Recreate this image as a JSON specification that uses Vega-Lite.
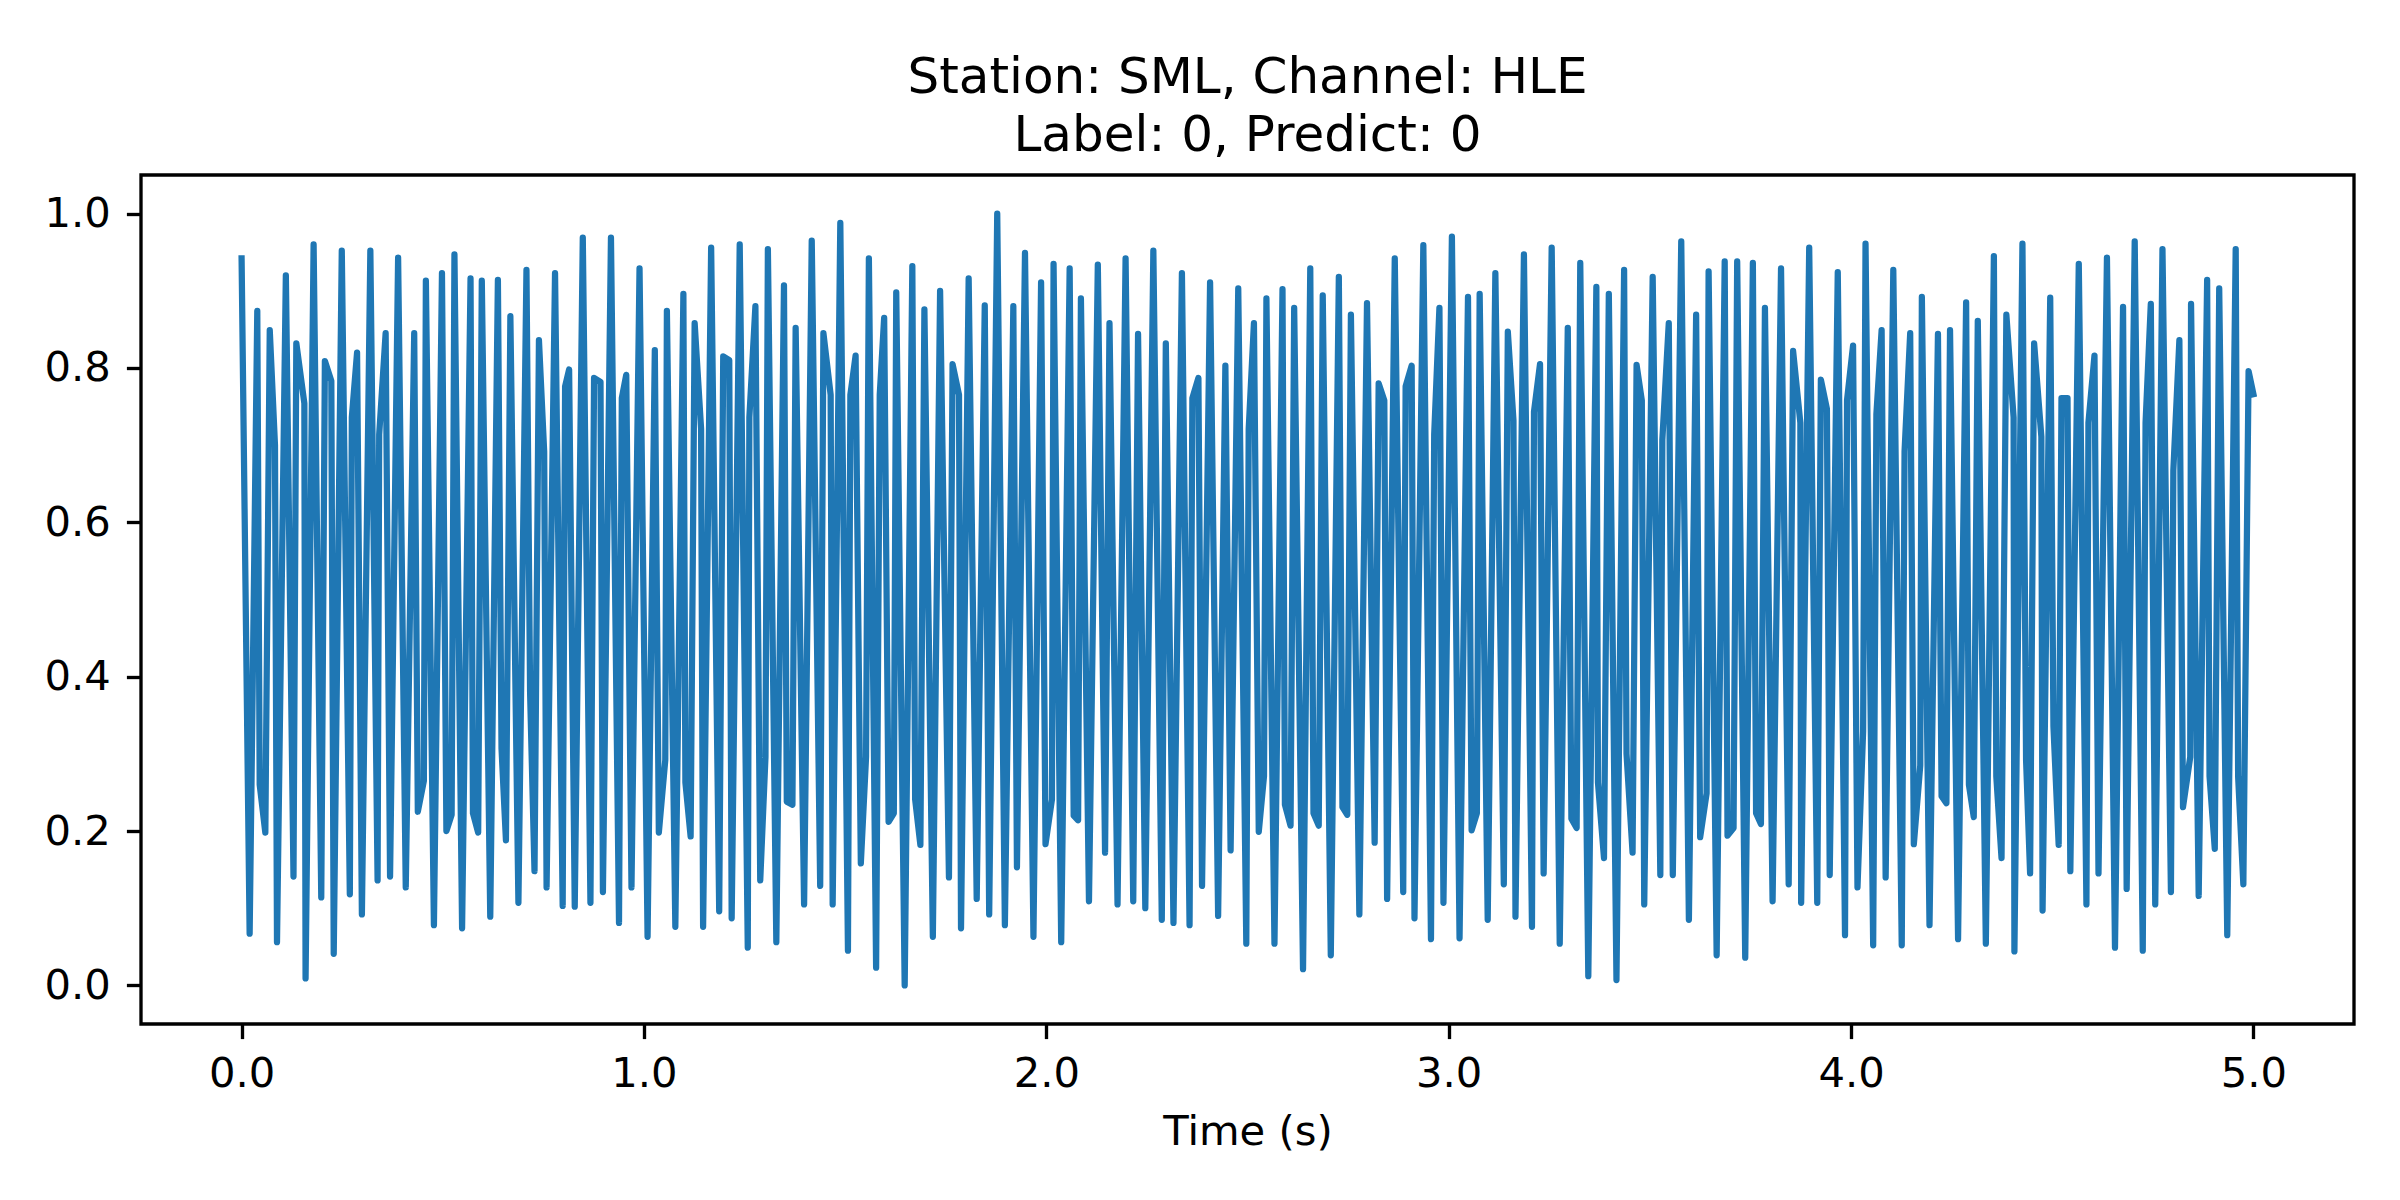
{
  "$schema": "https://vega.github.io/schema/vega-lite/v6.json",
  "description": "Station SML, channel HLE waveform over 5 seconds",
  "autosize": {"type": "none"},
  "width": 2213,
  "height": 849,
  "padding": {"left": 141, "top": 175, "right": 46, "bottom": 176},
  "background": "white",
  "title": {
    "text": ["Station: SML, Channel: HLE", "Label: 0, Predict: 0"],
    "font": "DejaVu Sans",
    "fontSize": 50,
    "fontWeight": "normal",
    "color": "#000000",
    "anchor": "middle",
    "frame": "group",
    "offset": 25,
    "dy": 51,
    "lineHeight": 58,
    "baseline": "alphabetic"
  },
  "data": {
    "values": [
      {"t":0,"v":0.942},{"t":0.02,"v":0.067},{"t":0.039,"v":0.874},{"t":0.045,"v":0.26},{"t":0.059,"v":0.198},
      {"t":0.07,"v":0.849},{"t":0.083,"v":0.7},{"t":0.088,"v":0.056},{"t":0.11,"v":0.92},{"t":0.129,"v":0.141},
      {"t":0.136,"v":0.832},{"t":0.156,"v":0.754},{"t":0.159,"v":0.009},{"t":0.179,"v":0.96},{"t":0.198,"v":0.114},
      {"t":0.207,"v":0.809},{"t":0.223,"v":0.783},{"t":0.229,"v":0.041},{"t":0.249,"v":0.952},{"t":0.269,"v":0.118},
      {"t":0.274,"v":0.736},{"t":0.287,"v":0.82},{"t":0.299,"v":0.092},{"t":0.32,"v":0.952},{"t":0.338,"v":0.136},
      {"t":0.342,"v":0.714},{"t":0.358,"v":0.845},{"t":0.369,"v":0.141},{"t":0.389,"v":0.943},{"t":0.408,"v":0.127},
      {"t":0.429,"v":0.845},{"t":0.438,"v":0.225},{"t":0.453,"v":0.265},{"t":0.458,"v":0.913},{"t":0.478,"v":0.078},
      {"t":0.498,"v":0.923},{"t":0.509,"v":0.2},{"t":0.522,"v":0.221},{"t":0.529,"v":0.947},{"t":0.548,"v":0.074},
      {"t":0.569,"v":0.916},{"t":0.575,"v":0.223},{"t":0.588,"v":0.198},{"t":0.597,"v":0.913},{"t":0.618,"v":0.089},
      {"t":0.637,"v":0.914},{"t":0.646,"v":0.307},{"t":0.657,"v":0.188},{"t":0.668,"v":0.867},{"t":0.688,"v":0.107},
      {"t":0.708,"v":0.927},{"t":0.717,"v":0.38},{"t":0.728,"v":0.148},{"t":0.739,"v":0.836},{"t":0.752,"v":0.692},
      {"t":0.758,"v":0.127},{"t":0.779,"v":0.923},{"t":0.798,"v":0.103},{"t":0.804,"v":0.776},{"t":0.814,"v":0.798},
      {"t":0.828,"v":0.102},{"t":0.848,"v":0.969},{"t":0.867,"v":0.107},{"t":0.876,"v":0.787},{"t":0.892,"v":0.782},
      {"t":0.898,"v":0.121},{"t":0.918,"v":0.969},{"t":0.938,"v":0.081},{"t":0.945,"v":0.761},{"t":0.956,"v":0.791},
      {"t":0.969,"v":0.127},{"t":0.989,"v":0.929},{"t":1.009,"v":0.063},{"t":1.027,"v":0.823},{"t":1.037,"v":0.198},
      {"t":1.053,"v":0.292},{"t":1.057,"v":0.874},{"t":1.078,"v":0.076},{"t":1.098,"v":0.896},{"t":1.103,"v":0.263},
      {"t":1.116,"v":0.193},{"t":1.126,"v":0.858},{"t":1.142,"v":0.721},{"t":1.147,"v":0.076},{"t":1.167,"v":0.956},
      {"t":1.187,"v":0.096},{"t":1.197,"v":0.815},{"t":1.212,"v":0.81},{"t":1.218,"v":0.087},{"t":1.238,"v":0.96},
      {"t":1.258,"v":0.049},{"t":1.262,"v":0.736},{"t":1.277,"v":0.88},{"t":1.289,"v":0.136},{"t":1.302,"v":0.296},
      {"t":1.308,"v":0.954},{"t":1.329,"v":0.056},{"t":1.348,"v":0.907},{"t":1.355,"v":0.238},{"t":1.369,"v":0.234},
      {"t":1.377,"v":0.852},{"t":1.398,"v":0.105},{"t":1.417,"v":0.965},{"t":1.438,"v":0.129},{"t":1.446,"v":0.845},
      {"t":1.464,"v":0.765},{"t":1.469,"v":0.105},{"t":1.488,"v":0.988},{"t":1.507,"v":0.045},{"t":1.513,"v":0.765},
      {"t":1.526,"v":0.816},{"t":1.539,"v":0.158},{"t":1.552,"v":0.296},{"t":1.559,"v":0.942},{"t":1.577,"v":0.023},
      {"t":1.586,"v":0.765},{"t":1.597,"v":0.865},{"t":1.608,"v":0.212},{"t":1.621,"v":0.223},{"t":1.627,"v":0.898},
      {"t":1.648,"v":0.0},{"t":1.667,"v":0.932},{"t":1.674,"v":0.241},{"t":1.687,"v":0.182},{"t":1.697,"v":0.876},
      {"t":1.718,"v":0.063},{"t":1.736,"v":0.9},{"t":1.758,"v":0.14},{"t":1.767,"v":0.805},{"t":1.783,"v":0.765},
      {"t":1.788,"v":0.074},{"t":1.807,"v":0.916},{"t":1.827,"v":0.112},{"t":1.847,"v":0.881},{"t":1.858,"v":0.092},
      {"t":1.878,"v":1.0},{"t":1.897,"v":0.078},{"t":1.918,"v":0.88},{"t":1.927,"v":0.153},{"t":1.947,"v":0.949},
      {"t":1.968,"v":0.063},{"t":1.987,"v":0.911},{"t":1.998,"v":0.183},{"t":2.014,"v":0.241},{"t":2.018,"v":0.935},
      {"t":2.037,"v":0.056},{"t":2.058,"v":0.929},{"t":2.068,"v":0.22},{"t":2.079,"v":0.214},{"t":2.086,"v":0.89},
      {"t":2.106,"v":0.109},{"t":2.128,"v":0.934},{"t":2.146,"v":0.172},{"t":2.157,"v":0.858},{"t":2.177,"v":0.105},
      {"t":2.197,"v":0.942},{"t":2.216,"v":0.109},{"t":2.228,"v":0.844},{"t":2.246,"v":0.1},{"t":2.266,"v":0.952},
      {"t":2.287,"v":0.085},{"t":2.297,"v":0.832},{"t":2.316,"v":0.081},{"t":2.337,"v":0.923},{"t":2.356,"v":0.078},
      {"t":2.363,"v":0.761},{"t":2.378,"v":0.787},{"t":2.387,"v":0.129},{"t":2.407,"v":0.911},{"t":2.427,"v":0.09},
      {"t":2.445,"v":0.803},{"t":2.458,"v":0.175},{"t":2.477,"v":0.903},{"t":2.497,"v":0.054},{"t":2.503,"v":0.721},
      {"t":2.516,"v":0.858},{"t":2.528,"v":0.199},{"t":2.541,"v":0.271},{"t":2.547,"v":0.89},{"t":2.567,"v":0.054},
      {"t":2.587,"v":0.902},{"t":2.593,"v":0.234},{"t":2.607,"v":0.207},{"t":2.616,"v":0.878},{"t":2.638,"v":0.021},
      {"t":2.656,"v":0.929},{"t":2.664,"v":0.223},{"t":2.677,"v":0.207},{"t":2.687,"v":0.894},{"t":2.707,"v":0.039},
      {"t":2.727,"v":0.918},{"t":2.736,"v":0.231},{"t":2.748,"v":0.221},{"t":2.757,"v":0.869},{"t":2.778,"v":0.092},
      {"t":2.797,"v":0.884},{"t":2.816,"v":0.185},{"t":2.826,"v":0.78},{"t":2.84,"v":0.758},{"t":2.847,"v":0.112},
      {"t":2.866,"v":0.942},{"t":2.887,"v":0.121},{"t":2.893,"v":0.776},{"t":2.908,"v":0.803},{"t":2.915,"v":0.087},
      {"t":2.937,"v":0.959},{"t":2.956,"v":0.06},{"t":2.964,"v":0.714},{"t":2.977,"v":0.878},{"t":2.987,"v":0.107},
      {"t":3.008,"v":0.97},{"t":3.027,"v":0.061},{"t":3.048,"v":0.892},{"t":3.057,"v":0.201},{"t":3.07,"v":0.223},
      {"t":3.077,"v":0.896},{"t":3.097,"v":0.085},{"t":3.116,"v":0.923},{"t":3.137,"v":0.131},{"t":3.147,"v":0.847},
      {"t":3.161,"v":0.732},{"t":3.166,"v":0.089},{"t":3.187,"v":0.947},{"t":3.207,"v":0.076},{"t":3.212,"v":0.743},
      {"t":3.227,"v":0.805},{"t":3.236,"v":0.145},{"t":3.256,"v":0.956},{"t":3.276,"v":0.054},{"t":3.296,"v":0.852},
      {"t":3.305,"v":0.216},{"t":3.318,"v":0.204},{"t":3.327,"v":0.936},{"t":3.347,"v":0.012},{"t":3.367,"v":0.905},
      {"t":3.371,"v":0.263},{"t":3.386,"v":0.165},{"t":3.398,"v":0.896},{"t":3.417,"v":0.007},{"t":3.436,"v":0.927},
      {"t":3.442,"v":0.3},{"t":3.457,"v":0.172},{"t":3.467,"v":0.804},{"t":3.48,"v":0.758},{"t":3.486,"v":0.105},
      {"t":3.507,"v":0.918},{"t":3.526,"v":0.143},{"t":3.531,"v":0.707},{"t":3.547,"v":0.858},{"t":3.557,"v":0.143},
      {"t":3.578,"v":0.964},{"t":3.597,"v":0.085},{"t":3.615,"v":0.869},{"t":3.625,"v":0.192},{"t":3.641,"v":0.249},
      {"t":3.646,"v":0.925},{"t":3.666,"v":0.039},{"t":3.686,"v":0.938},{"t":3.693,"v":0.194},{"t":3.708,"v":0.204},
      {"t":3.717,"v":0.938},{"t":3.737,"v":0.036},{"t":3.756,"v":0.936},{"t":3.764,"v":0.223},{"t":3.776,"v":0.209},
      {"t":3.786,"v":0.878},{"t":3.805,"v":0.109},{"t":3.826,"v":0.929},{"t":3.845,"v":0.131},{"t":3.856,"v":0.822},
      {"t":3.874,"v":0.729},{"t":3.876,"v":0.107},{"t":3.896,"v":0.956},{"t":3.916,"v":0.107},{"t":3.925,"v":0.785},
      {"t":3.94,"v":0.747},{"t":3.947,"v":0.143},{"t":3.967,"v":0.924},{"t":3.985,"v":0.065},{"t":3.99,"v":0.758},
      {"t":4.005,"v":0.829},{"t":4.016,"v":0.127},{"t":4.03,"v":0.329},{"t":4.036,"v":0.961},{"t":4.055,"v":0.052},
      {"t":4.063,"v":0.74},{"t":4.076,"v":0.849},{"t":4.086,"v":0.14},{"t":4.105,"v":0.927},{"t":4.126,"v":0.052},
      {"t":4.133,"v":0.692},{"t":4.147,"v":0.845},{"t":4.156,"v":0.183},{"t":4.172,"v":0.285},{"t":4.176,"v":0.892},
      {"t":4.195,"v":0.078},{"t":4.216,"v":0.844},{"t":4.225,"v":0.245},{"t":4.237,"v":0.236},{"t":4.246,"v":0.849},
      {"t":4.266,"v":0.06},{"t":4.286,"v":0.885},{"t":4.293,"v":0.26},{"t":4.305,"v":0.218},{"t":4.315,"v":0.861},
      {"t":4.335,"v":0.054},{"t":4.355,"v":0.945},{"t":4.361,"v":0.271},{"t":4.374,"v":0.165},{"t":4.386,"v":0.869},
      {"t":4.404,"v":0.736},{"t":4.406,"v":0.044},{"t":4.426,"v":0.961},{"t":4.435,"v":0.292},{"t":4.445,"v":0.145},
      {"t":4.455,"v":0.832},{"t":4.473,"v":0.711},{"t":4.476,"v":0.097},{"t":4.495,"v":0.891},{"t":4.503,"v":0.336},
      {"t":4.516,"v":0.182},{"t":4.523,"v":0.761},{"t":4.538,"v":0.761},{"t":4.545,"v":0.148},{"t":4.566,"v":0.935},
      {"t":4.585,"v":0.105},{"t":4.59,"v":0.729},{"t":4.605,"v":0.816},{"t":4.615,"v":0.145},{"t":4.636,"v":0.943},
      {"t":4.656,"v":0.049},{"t":4.676,"v":0.879},{"t":4.685,"v":0.125},{"t":4.705,"v":0.964},{"t":4.725,"v":0.045},
      {"t":4.732,"v":0.729},{"t":4.745,"v":0.883},{"t":4.756,"v":0.105},{"t":4.774,"v":0.954},{"t":4.795,"v":0.121},
      {"t":4.801,"v":0.667},{"t":4.816,"v":0.836},{"t":4.825,"v":0.231},{"t":4.843,"v":0.296},{"t":4.845,"v":0.883},
      {"t":4.864,"v":0.116},{"t":4.885,"v":0.914},{"t":4.891,"v":0.271},{"t":4.904,"v":0.177},{"t":4.915,"v":0.903},
      {"t":4.935,"v":0.065},{"t":4.956,"v":0.954},{"t":4.962,"v":0.271},{"t":4.975,"v":0.131},{"t":4.988,"v":0.796},
      {"t":5.0,"v":0.766}
    ]
  },
  "mark": {
    "type": "line",
    "color": "#1f77b4",
    "strokeWidth": 6.25,
    "strokeJoin": "round",
    "strokeCap": "square",
    "clip": true
  },
  "encoding": {
    "x": {
      "field": "t",
      "type": "quantitative",
      "scale": {"domain": [-0.25, 5.25], "nice": false, "zero": false},
      "axis": {"values": [0, 1, 2, 3, 4, 5], "format": ".1f", "title": "Time (s)"}
    },
    "y": {
      "field": "v",
      "type": "quantitative",
      "scale": {"domain": [-0.05, 1.05], "nice": false, "zero": false},
      "axis": {"values": [0, 0.2, 0.4, 0.6, 0.8, 1.0], "format": ".1f", "title": null}
    }
  },
  "config": {
    "view": {"stroke": "#000000", "strokeWidth": 3.33, "fill": "white"},
    "axis": {
      "grid": false,
      "domain": false,
      "tickColor": "#000000",
      "tickWidth": 3.33,
      "tickSize": 14.6,
      "labelFont": "DejaVu Sans",
      "labelFontSize": 41.7,
      "labelColor": "#000000",
      "labelPadding": 15,
      "labelFlush": false,
      "labelOverlap": false,
      "titleFont": "DejaVu Sans",
      "titleFontSize": 41.7,
      "titleFontWeight": "normal",
      "titleColor": "#000000"
    },
    "axisX": {"titlePadding": 16},
    "axisY": {"labelPadding": 16}
  }
}
